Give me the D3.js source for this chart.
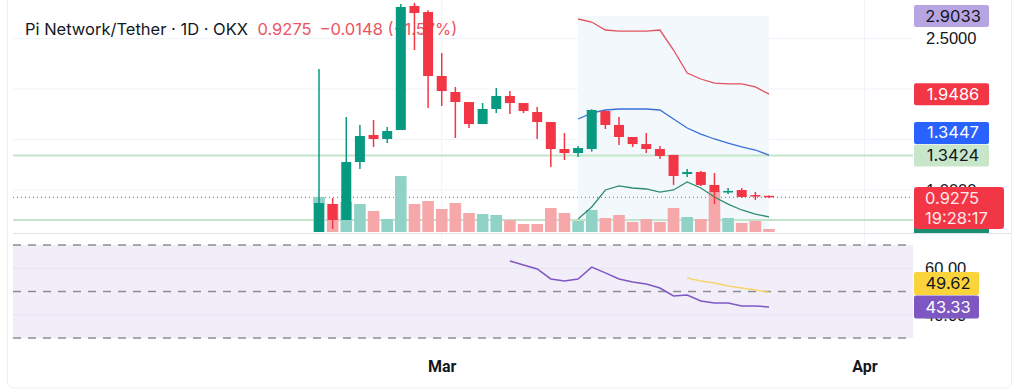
<!DOCTYPE html>
<html>
<head>
<meta charset="utf-8">
<script src="https://cdn.jsdelivr.net/npm/d3@7"></script>
<style>
	html, body { margin: 0; padding: 0; background: #fff; }
	svg { display: block; font-family: Inter, "Noto Sans", sans-serif; }
</style>
</head>
<body>
<svg id="chart" width="1024" height="392"></svg>
<script>
// DAILY CANDLES, PI/USDT (OKX), 20 FEB - 25 MAR
const days = d3.utcDay.range(new Date(Date.UTC(2025, 1, 20)), new Date(Date.UTC(2025, 2, 26)))
const open  = [0.584, 0.861, 0.703, 1.277, 1.545, 1.505, 1.594, 2.822, 2.762, 2.129, 1.970, 1.871, 1.653, 1.802, 1.931, 1.861, 1.772, 1.673, 1.406, 1.366, 1.406, 1.782, 1.644, 1.525, 1.455, 1.406, 1.347, 1.158, 1.178, 1.050, 0.980, 1.000, 0.950, 0.9423]
const high  = [2.198, 0.921, 1.723, 1.644, 1.693, 1.624, 2.842, 2.903, 2.780, 2.356, 2.020, 1.871, 1.861, 2.010, 1.980, 1.861, 1.822, 1.673, 1.564, 1.436, 1.800, 1.792, 1.723, 1.525, 1.564, 1.436, 1.347, 1.208, 1.188, 1.168, 1.020, 1.020, 0.980, 0.945]
const low   = [0.584, 0.614, 0.703, 1.208, 1.426, 1.465, 1.594, 2.386, 1.812, 1.832, 1.515, 1.614, 1.653, 1.762, 1.752, 1.762, 1.505, 1.228, 1.297, 1.327, 1.380, 1.604, 1.446, 1.426, 1.366, 1.307, 1.050, 1.129, 1.040, 0.861, 0.960, 0.921, 0.900, 0.920]
const close = [0.871, 0.703, 1.277, 1.535, 1.505, 1.584, 2.812, 2.752, 2.129, 1.980, 1.871, 1.653, 1.802, 1.931, 1.861, 1.782, 1.673, 1.406, 1.366, 1.416, 1.792, 1.644, 1.525, 1.455, 1.406, 1.337, 1.139, 1.178, 1.050, 0.980, 0.990, 0.931, 0.9423, 0.9275]
const volume = [350, 280, 300, 280, 210, 130, 560, 280, 310, 230, 290, 190, 180, 170, 120, 80, 80, 240, 190, 110, 220, 140, 170, 100, 130, 100, 240, 150, 130, 410, 140, 90, 110, 30]

// BOLLINGER BANDS (20), FROM 11 MAR
const bbStart = 19
const bbUpper = [2.693, 2.663, 2.584, 2.574, 2.574, 2.574, 2.584, 2.386, 2.158, 2.099, 2.059, 2.050, 2.050, 2.020, 1.9486]
const bbMid   = [1.703, 1.762, 1.792, 1.802, 1.802, 1.802, 1.792, 1.703, 1.614, 1.554, 1.505, 1.465, 1.426, 1.396, 1.3447]
const bbLower = [0.713, 0.832, 1.000, 1.040, 1.020, 1.010, 0.980, 1.000, 1.079, 1.020, 0.931, 0.861, 0.802, 0.762, 0.733]

// HORIZONTAL LEVELS
const levels = [1.3424, 0.703]

// RSI (14) AND ITS MA
const rsiStart = 14
const rsi = [63.1, 61.4, 59.7, 55.4, 54.5, 55.4, 60.5, 58.0, 55.4, 54.1, 53.2, 51.5, 48.1, 48.5, 45.9, 45.1, 45.1, 43.8, 43.8, 43.33]
const rsiMaStart = 27
const rsiMa = [55.8, 54.5, 53.7, 52.4, 51.5, 50.6, 49.62]

const priceGrid = [2.5, 2.0, 1.5, 1.0]
const priceTicks = [2.5, 1.0]
const rsiTicks = [60, 40]
const rsiBands = [70, 50, 30]
const monthTicks = [new Date(Date.UTC(2025, 2, 1)), new Date(Date.UTC(2025, 3, 1))]

const UP = '#089981', DOWN = '#f23645'
const left = 13, right = 913

const svg = d3.select('svg#chart')

// SCALES
const x = d3.scaleUtc().domain([days[0], days[days.length - 1]]).range([319, 769])
const y = d3.scaleLinear().domain([1.0, 2.5]).range([190, 38.5])
const yv = d3.scaleLinear().domain([0, 600]).range([232, 172])
const yr = d3.scaleLinear().domain([30, 70]).range([338, 245])

// FRAME
svg.append('rect')
	.attr('x', 7.5).attr('y', -6).attr('width', 1004).attr('height', 394).attr('rx', 6)
	.attr('fill', 'none').attr('stroke', '#eceef2')

// GRID
const grid = svg.append('g')
grid.selectAll('line.h').data(priceGrid).join('line')
	.attr('x1', left).attr('x2', right)
	.attr('y1', d => y(d)).attr('y2', d => y(d))
	.attr('stroke', '#f0f3fa')

// RSI BACKGROUND
svg.append('rect')
	.attr('x', left).attr('width', right - left)
	.attr('y', yr(70)).attr('height', yr(30) - yr(70))
	.attr('fill', '#f2eef9')
svg.append('g').selectAll('line').data(rsiTicks).join('line')
	.attr('x1', left).attr('x2', right)
	.attr('y1', d => yr(d)).attr('y2', d => yr(d))
	.attr('stroke', '#e6e1f0')

grid.selectAll('line.v').data(monthTicks).join('line')
	.attr('x1', d => x(d)).attr('x2', d => x(d))
	.attr('y1', 0).attr('y2', 340)
	.attr('stroke', '#f0f3fa')

svg.append('g').selectAll('line').data(rsiBands).join('line')
	.attr('x1', left).attr('x2', right)
	.attr('y1', d => yr(d)).attr('y2', d => yr(d))
	.attr('stroke', '#8a8d96').attr('stroke-width', 1.5).attr('stroke-dasharray', '8,7')

// PANE SEPARATOR
svg.append('line').attr('x1', left).attr('x2', 1011).attr('y1', 233.5).attr('y2', 233.5).attr('stroke', '#e0e3eb')

// HIGHLIGHTED RANGE
svg.append('rect')
	.attr('x', x(days[bbStart])).attr('width', x(days[days.length - 1]) - x(days[bbStart]))
	.attr('y', 16).attr('height', 232 - 16)
	.attr('fill', '#f3f8fd')

// TITLE
const title = svg.append('text').attr('x', 25).attr('y', 35).attr('font-size', 16.5)
title.append('tspan').attr('fill', '#131722').text('Pi Network/Tether · 1D · OKX')
title.append('tspan').attr('fill', '#ec5462').attr('dx', 10).text('0.9275')
title.append('tspan').attr('fill', '#ec5462').attr('dx', 8).text('\u22120.0148 (\u22121.57%)')

// LEVELS
svg.append('g').selectAll('line').data(levels).join('line')
	.attr('x1', left).attr('x2', right)
	.attr('y1', d => y(d)).attr('y2', d => y(d))
	.attr('stroke', '#c3e4c8').attr('stroke-width', 2)

// LAST PRICE LINE
svg.append('line')
	.attr('x1', left).attr('x2', right)
	.attr('y1', y(close[close.length - 1])).attr('y2', y(close[close.length - 1]))
	.attr('stroke', DOWN).attr('stroke-dasharray', '1,3')

// VOLUME
svg.append('g').selectAll('rect').data(volume).join('rect')
	.attr('x', (d, i) => x(days[i]) - 5.8).attr('width', 11.6)
	.attr('y', d => yv(d)).attr('height', d => yv(0) - yv(d))
	.attr('fill', (d, i) => close[i] >= open[i] ? '#91d2c7' : '#f6a7aa')

// BOLLINGER
const bbLine = arr => d3.line().x((d, i) => x(days[bbStart + i])).y(d => y(d))(arr)
svg.append('path').attr('d', bbLine(bbUpper)).attr('fill', 'none').attr('stroke', '#e0535c').attr('stroke-width', 1.3)
svg.append('path').attr('d', bbLine(bbMid)).attr('fill', 'none').attr('stroke', '#3a6fd8').attr('stroke-width', 1.3)
svg.append('path').attr('d', bbLine(bbLower)).attr('fill', 'none').attr('stroke', '#2f8d6c').attr('stroke-width', 1.3)

// CANDLES
const candles = svg.append('g').selectAll('g').data(days).join('g')
	.attr('fill', (d, i) => close[i] >= open[i] ? UP : DOWN)
	.attr('stroke', (d, i) => close[i] >= open[i] ? UP : DOWN)
candles.append('line')
	.attr('x1', d => x(d)).attr('x2', d => x(d))
	.attr('y1', (d, i) => Math.max(y(high[i]), 3)).attr('y2', (d, i) => y(low[i]))
	.attr('stroke-width', 1.5)
candles.append('rect')
	.attr('stroke', 'none')
	.attr('x', d => x(d) - 5).attr('width', 10)
	.attr('y', (d, i) => Math.min(y(open[i]), y(close[i])))
	.attr('height', (d, i) => Math.max(1.5, Math.abs(y(open[i]) - y(close[i]))))

// RSI
svg.append('path')
	.attr('d', d3.line().x((d, i) => x(days[rsiStart + i])).y(d => yr(d))(rsi))
	.attr('fill', 'none').attr('stroke', '#7e57c2').attr('stroke-width', 1.5)
svg.append('path')
	.attr('d', d3.line().x((d, i) => x(days[rsiMaStart + i])).y(d => yr(d))(rsiMa))
	.attr('fill', 'none').attr('stroke', '#f7d56a').attr('stroke-width', 1.5)

// RIGHT AXES
const axisR = svg.append('g').attr('transform', `translate(${right}, 0)`)
	.call(d3.axisRight(y).tickValues(priceTicks).tickFormat(d3.format('.4f')).tickSize(0).tickPadding(13))
axisR.select('.domain').remove()
axisR.selectAll('text').attr('font-size', 16.5).attr('fill', '#131722')

const axisRsi = svg.append('g').attr('transform', `translate(${right}, 0)`)
	.call(d3.axisRight(yr).tickValues(rsiTicks).tickFormat(d3.format('.2f')).tickSize(0).tickPadding(12))
axisRsi.select('.domain').remove()
axisRsi.selectAll('text').attr('font-size', 16.5).attr('fill', '#131722')

// X AXIS
const axisX = svg.append('g').attr('transform', 'translate(0, 358)')
	.call(d3.axisBottom(x).tickValues(monthTicks).tickFormat(d3.utcFormat('%b')).tickSize(0).tickPadding(3))
axisX.select('.domain').remove()
axisX.selectAll('text').attr('font-size', 16).attr('font-weight', 700).attr('fill', '#131722')
	.attr('font-family', '"Liberation Sans Narrow", "Roboto", sans-serif')

// PRICE LABELS
const boxH = 22
const labels = [
	{ v: 2.9033, bg: '#b7a5e1', fg: '#131722' },
	{ v: bbUpper[bbUpper.length - 1], bg: '#f23645', fg: '#fff' },
	{ v: bbMid[bbMid.length - 1], bg: '#2962ff', fg: '#fff' },
	{ v: levels[0], bg: '#c8e6c9', fg: '#131722' },
]
// volume tag peeking under the last price tag
svg.append('rect').attr('x', 914).attr('y', 222).attr('width', 75).attr('height', 11).attr('fill', '#1e8c6e')

let floor = 187 - 0.5
labels.sort((a, b) => a.v - b.v).forEach(d => {
	let c = Math.max(y(d.v), boxH / 2 + 5)
	if (c + boxH / 2 > floor) c = floor - boxH / 2
	d.c = c
	floor = c - boxH / 2 - 0.5
})
const tags = svg.append('g').selectAll('g').data(labels).join('g')
	.attr('transform', d => `translate(914, ${d.c - boxH / 2})`)
tags.append('rect').attr('width', 75).attr('height', boxH).attr('rx', 2).attr('fill', d => d.bg)
tags.append('text').attr('x', 39).attr('y', 16.5).attr('text-anchor', 'middle')
	.attr('font-size', 16.5).attr('fill', d => d.fg).text(d => d3.format('.4f')(d.v))

const last = svg.append('g').attr('transform', 'translate(914, 187)')
last.append('rect').attr('width', 90).attr('height', 42).attr('rx', 3).attr('fill', DOWN)
last.append('text').attr('x', 11).attr('y', 17).attr('font-size', 16.5).attr('fill', '#fde8ea').text(d3.format('.4f')(close[close.length - 1]))
last.append('text').attr('x', 11).attr('y', 37).attr('font-size', 16.5).attr('fill', '#fde8ea').text('19:28:17')

// RSI LABELS
const rsiTags = [
	{ v: rsiMa[rsiMa.length - 1], bg: '#fbd43c', fg: '#131722', c: 283.5 },
	{ v: rsi[rsi.length - 1], bg: '#7e57c2', fg: '#fff', c: yr(rsi[rsi.length - 1]) },
]
const rt = svg.append('g').selectAll('g').data(rsiTags).join('g')
	.attr('transform', d => `translate(914, ${d.c - 11.5})`)
rt.append('rect').attr('width', 65).attr('height', 23).attr('rx', 2).attr('fill', d => d.bg)
rt.append('text').attr('x', 34).attr('y', 17).attr('text-anchor', 'middle')
	.attr('font-size', 16.5).attr('fill', d => d.fg).text(d => d3.format('.2f')(d.v))
</script>
</body>
</html>
